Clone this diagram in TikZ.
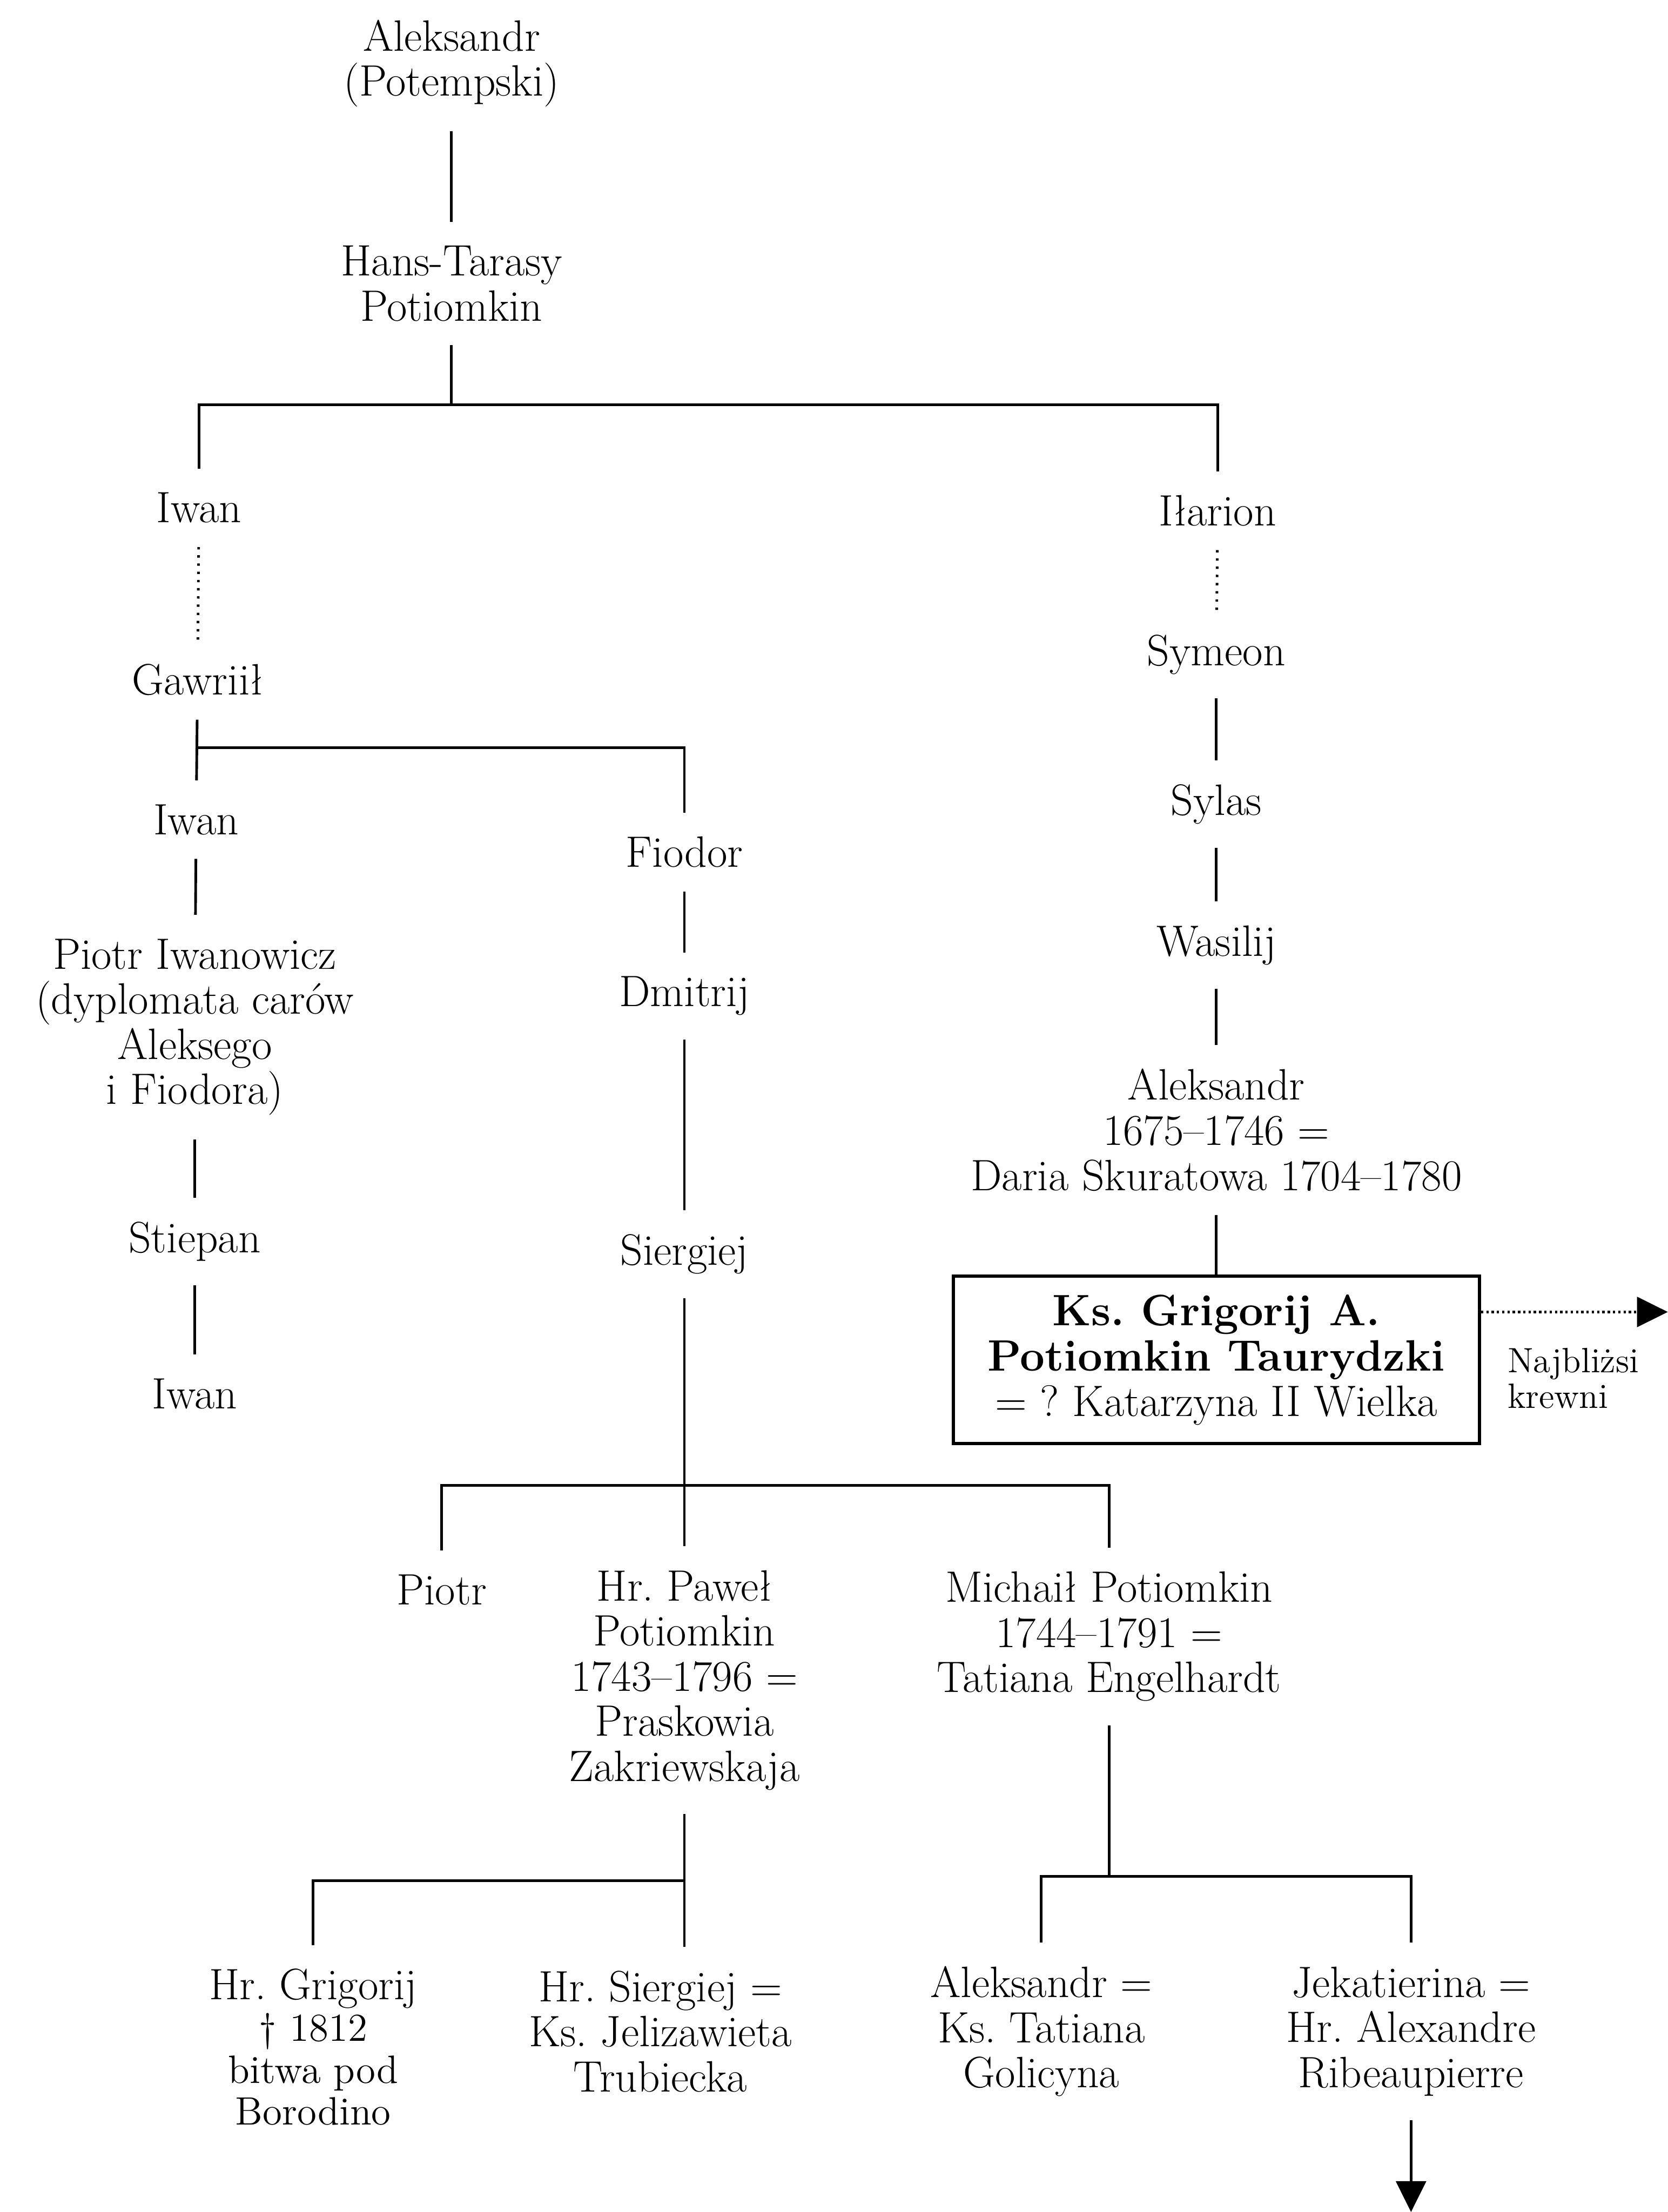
\documentclass[tikz,border=0pt]{standalone}
\usetikzlibrary{arrows.meta}
\begin{document}
\begin{tikzpicture}[
  x=0.01692cm, y=-0.01692cm,
  person/.style={align=center,inner sep=2pt,font=\fontsize{15}{15.4}\selectfont\frenchspacing},
  note/.style={align=left,inner sep=0pt,font=\fontsize{12}{12.3}\selectfont},
  heir/.style={person,draw,line width=1.1pt,minimum width=6.31cm,minimum height=2.01cm},
  link/.style={line width=0.9pt,shorten <=6pt,shorten >=6pt},
  faint/.style={link,dash pattern=on 0.8pt off 2pt},
  tip/.style={-{Triangle[length=0.37cm,width=0.36cm]}}
]
\useasboundingbox (0,0) rectangle (1182,1568);
% first generations
\node[person] (potempski) at (320,45) {Aleksandr\\(Potempski)};
\node[person] (hans) at (320,201) {Hans-Tarasy\\Potiomkin};
\node[person] (iwanA) at (141,360) {Iwan};
\node[person] (ilarion) at (863,362) {Iłarion};
\coordinate (b1) at (320,287);
% left line
\node[person] (gawriil) at (140,482) {Gawriił};
\node[person] (iwanB) at (139,581) {Iwan};
\node[person] (piotrIw) at (138,728) {Piotr Iwanowicz\\(dyplomata carów\\Aleksego\\i Fiodora)};
\node[person] (stiepan) at (138,880) {Stiepan};
\node[person] (iwanC) at (138,988) {Iwan};
\coordinate (b2) at (140,530);
% middle line
\node[person] (fiodor) at (485,604) {Fiodor};
\node[person] (dmitrij) at (485,706) {Dmitrij};
\node[person] (siergiejA) at (485,889) {Siergiej};
\coordinate (b3) at (485,1053);
\node[person] (piotr) at (313,1127) {Piotr};
\node[person] (pawel) at (485,1191) {Hr. Paweł\\Potiomkin\\1743–1796 =\\Praskowia\\Zakriewskaja};
\node[person] (michail) at (786,1160) {Michaił Potiomkin\\1744–1791 =\\Tatiana Engelhardt};
\coordinate (b4) at (485,1333);
\coordinate (b5) at (786,1330);
\node[person,font=\fontsize{13.5}{14.2}\selectfont\frenchspacing] (grigorijHr) at (222,1451)
  {{\fontsize{15}{15.4}\selectfont Hr. Grigorij}\\\textdagger\ 1812\\bitwa pod\\Borodino};
\node[person] (siergiejHr) at (468,1440) {Hr. Siergiej =\\Ks. Jelizawieta\\Trubiecka};
\node[person] (aleksandrB) at (738,1440) {Aleksandr =\\Ks. Tatiana\\Golicyna};
\node[person] (jekatierina) at (1000,1440) {Jekatierina =\\Hr. Alexandre\\Ribeaupierre};
\coordinate (down) at (1000,1568);
% right line
\node[person] (symeon) at (862,464) {Symeon};
\node[person] (sylas) at (862,570) {Sylas};
\node[person] (wasilij) at (862,670) {Wasilij};
\node[person] (aleksandrA) at (862,801) {Aleksandr\\1675–1746 =\\Daria Skuratowa 1704–1780};
\node[heir] (grigorij) at (862,964)
  {\textbf{Ks. Grigorij A.}\\\textbf{Potiomkin Taurydzki}\\= ? Katarzyna II Wielka};
\node[note,anchor=west] (krewni) at (1068,977) {Najbliżsi\\krewni};
\coordinate (kin) at (1182,930);

\draw[link] (potempski) -- (hans);
\draw[link,shorten >=0pt] (hans) -- (b1);
\draw[link] (iwanA.north) |- (b1) -| (ilarion.north);
\draw[faint] (iwanA) -- (gawriil);
\draw[link] (gawriil) -- (iwanB);
\draw[link,shorten <=0pt] (b2) -| (fiodor.north);
\draw[link] (iwanB) -- (piotrIw);
\draw[link] (piotrIw) -- (stiepan);
\draw[link] (stiepan) -- (iwanC);
\draw[link] (fiodor) -- (dmitrij);
\draw[link] (dmitrij) -- (siergiejA);
\draw[link] (siergiejA) -- (pawel);
\draw[link] (piotr.north) |- (b3) -| (michail.north);
\draw[link] (pawel) -- (pawel.south |- siergiejHr.north);
\draw[link,shorten >=0pt] (grigorijHr.north) |- (b4);
\draw[link,shorten >=0pt] (michail) -- (b5);
\draw[link] (aleksandrB.north) |- (b5) -| (jekatierina.north);
\draw[link,tip,shorten >=0pt] (jekatierina) -- (down);
\draw[faint] (ilarion) -- (symeon);
\draw[link] (symeon) -- (sylas);
\draw[link] (sylas) -- (wasilij);
\draw[link] (wasilij) -- (aleksandrA);
\draw[link,shorten >=0pt] (aleksandrA) -- (grigorij);
\draw[line width=0.8pt,densely dotted,tip] (grigorij.east |- kin) -- (kin);
\end{tikzpicture}
\end{document}
